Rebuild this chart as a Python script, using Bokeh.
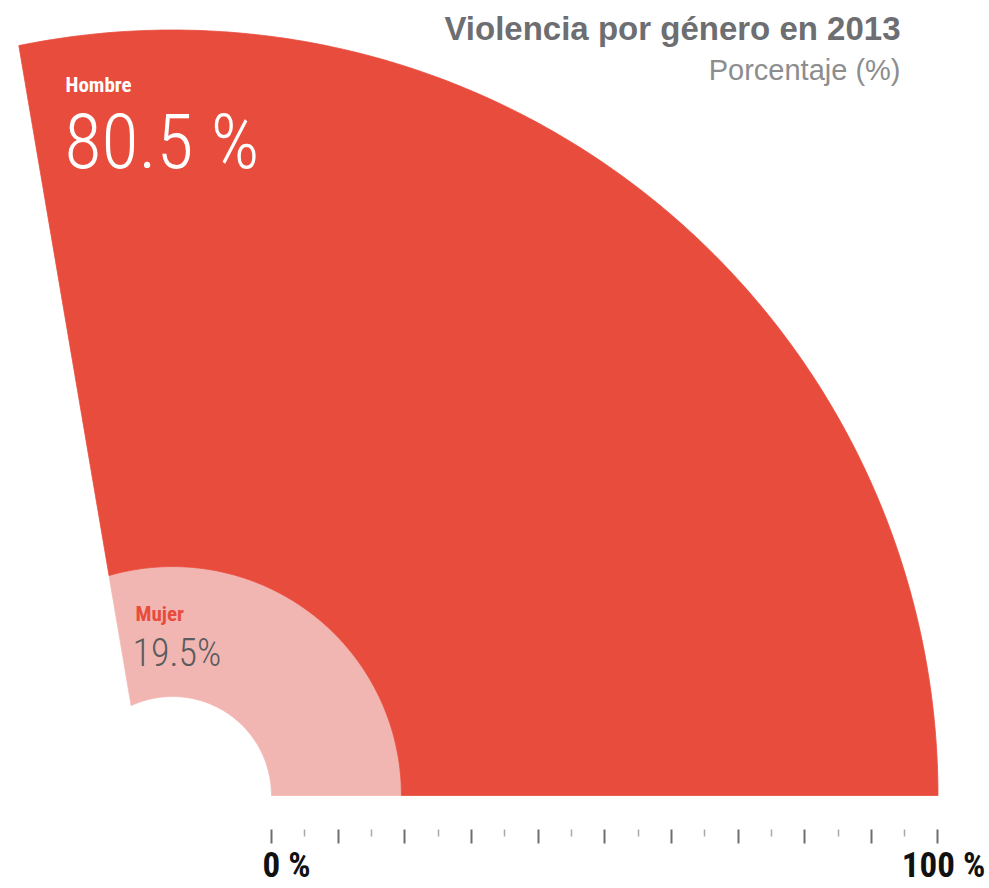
import numpy as np
from bokeh.plotting import figure
from bokeh.models import ColumnDataSource, Range1d, LinearAxis, FixedTicker, Label
from bokeh.embed import file_html
from bokeh.resources import INLINE

# ---- data ----
categories = ["Mujer", "Hombre"]
values = [19.5, 80.5]
value_labels = ["19.5%", "80.5 %"]
colors = ["#F2B6B2", "#E84C3D"]
major_ticks = list(range(0, 101, 10))
minor_ticks = list(range(5, 100, 10))
end_ticks = [0, 100]
end_tick_labels = ["0 %", "100 %"]
title_text = "Violencia por género en 2013"
subtitle_text = "Porcentaje (%)"

# ---- geometry / style constants ----
HOLE = 14.85                 # inner radius, in % units
END_ANGLE = np.radians(99.66)
EDGE = 3.85                  # offset of the straight left edge
S = 6.665                    # px per unit
CX, CY = 172.0, 795.0        # canvas position of the fan centre
FW, FH = 986, 829
LAB0, LAB100 = 286.0, 943.0  # pixel centres of the end labels

x0 = (0 - CX) / S
x1 = (FW - CX) / S
y1 = CY / S
y0 = (CY - FH) / S


def ring(r_in, r_out, n=200):
    a_out = np.linspace(0, END_ANGLE + np.arcsin(EDGE / r_out), n)
    a_in = np.linspace(END_ANGLE + np.arcsin(EDGE / r_in), 0, n)
    xs = np.concatenate([r_out * np.cos(a_out), r_in * np.cos(a_in)])
    ys = np.concatenate([r_out * np.sin(a_out), r_in * np.sin(a_in)])
    return list(xs), list(ys)


cum = np.cumsum([0] + values)
xs, ys = [], []
for i in range(len(values)):
    x, y = ring(HOLE + cum[i], HOLE + cum[i + 1])
    xs.append(x)
    ys.append(y)

src = ColumnDataSource(dict(xs=xs, ys=ys, color=colors, cat=categories))

p = figure(frame_width=FW, frame_height=FH,
           x_range=Range1d(x0, x1), y_range=Range1d(y0, y1),
           x_axis_type=None, y_axis_type=None,
           output_backend="svg", toolbar_location=None,
           min_border_left=0, min_border_right=0, min_border_top=0, min_border_bottom=0,
           outline_line_color=None, background_fill_color="white", border_fill_color="white")
p.grid.visible = False

p.patches("xs", "ys", source=src, fill_color="color", line_color="color", line_width=0.8)

# radial scale axis (0 % at the hole edge): ticks only
p.extra_x_ranges = {"pct": Range1d(x0 - HOLE, x1 - HOLE)}
ax = LinearAxis(x_range_name="pct",
                ticker=FixedTicker(ticks=major_ticks, minor_ticks=minor_ticks))
ax.axis_line_color = None
ax.major_tick_in = 0
ax.major_tick_out = 14
ax.major_tick_line_color = "#6D6E71"
ax.major_tick_line_width = 2
ax.minor_tick_in = 0
ax.minor_tick_out = 7
ax.minor_tick_line_color = "#A7A9AC"
ax.minor_tick_line_width = 1.5
ax.major_label_overrides = {t: "" for t in major_ticks}
ax.major_label_text_font_size = "1px"
ax.major_label_standoff = 0
p.add_layout(ax, "below")

# second axis carrying only the two end labels
k = (LAB100 - LAB0) / 100.0
p.extra_x_ranges["lab"] = Range1d((0 - LAB0) / k, (FW - LAB0) / k)
ax2 = LinearAxis(x_range_name="lab", ticker=FixedTicker(ticks=end_ticks, minor_ticks=[]))
ax2.axis_line_color = None
ax2.major_tick_line_color = None
ax2.major_tick_in = 0
ax2.major_tick_out = 0
ax2.minor_tick_line_color = None
ax2.major_label_overrides = dict(zip(end_ticks, end_tick_labels))
ax2.major_label_standoff = 1
ax2.major_label_text_font = "Roboto Condensed, Roboto"
ax2.major_label_text_font_style = "bold"
ax2.major_label_text_font_size = "35px"
ax2.major_label_text_color = "#111111"
p.add_layout(ax2, "below")


def sx(v):
    return (v - CX) / S


def label_y(baseline_px, size_px):
    # Bokeh places the alphabetic baseline ~0.37 em lower than asked
    return (CY - (baseline_px - 0.37 * size_px)) / S


COND = "Roboto Condensed, Roboto"
COND_LIGHT = "Roboto Condensed Light, Roboto Condensed, Roboto Light, Roboto"

# titles
p.add_layout(Label(x=sx(900), y=label_y(40, 33), text=title_text, text_align="right",
                   text_baseline="alphabetic", text_font="Liberation Sans",
                   text_font_style="bold", text_font_size="33px", text_color="#6D6E71"))
p.add_layout(Label(x=sx(900), y=label_y(80, 29), text=subtitle_text, text_align="right",
                   text_baseline="alphabetic", text_font="Liberation Sans",
                   text_font_size="29px", text_color="#8C8D8F"))

# Hombre labels
p.add_layout(Label(x=sx(65), y=label_y(92, 21), text=categories[1], text_align="left",
                   text_baseline="alphabetic", text_font=COND, text_font_style="bold",
                   text_font_size="21px", text_color="white"))
p.add_layout(Label(x=sx(64), y=label_y(170, 76), text=value_labels[1], text_align="left",
                   text_baseline="alphabetic", text_font=COND_LIGHT,
                   text_font_size="76px", text_color="white"))
# Mujer labels
p.add_layout(Label(x=sx(135), y=label_y(621, 21), text=categories[0], text_align="left",
                   text_baseline="alphabetic", text_font=COND, text_font_style="bold",
                   text_font_size="21px", text_color="#E84C3D"))
p.add_layout(Label(x=sx(132), y=label_y(667, 38), text=value_labels[0], text_align="left",
                   text_baseline="alphabetic", text_font=COND_LIGHT,
                   text_font_size="38px", text_color="#5A5C5E"))

open("out.html", "w").write(file_html(p, INLINE))
